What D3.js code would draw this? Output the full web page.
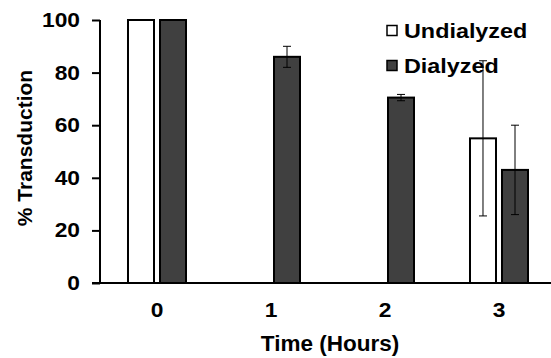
<!DOCTYPE html>
<html>
<head>
<meta charset="utf-8">
<script src="https://cdn.jsdelivr.net/npm/d3@7"></script>
<style>
  body { margin: 0; background: #fff; }
  text { font-family: 'Liberation Sans', Arial, sans-serif; font-weight: bold; fill: #000; }
</style>
</head>
<body>
<div id="chart"></div>
<script>
const hours = ['0', '1', '2', '3'];
const series = ['Undialyzed', 'Dialyzed'];
// null = no bar drawn
const undialyzed = [100, null, null, 55];
const undialyzedErr = [0, null, null, 29.5];
const dialyzed = [100, 86, 70.5, 43];
const dialyzedErr = [0, 4, 1.2, 17];
const yTicks = [0, 20, 40, 60, 80, 100];

const FILL = { Undialyzed: '#ffffff', Dialyzed: '#404040' };
const WIDE = 1.14; // the original text looks a bit stretched sideways

const width = 551, height = 358;

const svg = d3.select('#chart')
  .append('svg')
  .attr('width', width)
  .attr('height', height);

const y = d3.scaleLinear().domain([0, 100]).range([283, 20]);

const x0 = d3.scaleBand()
  .domain(hours)
  .range([100, 556])
  .paddingInner(0.4912)
  .paddingOuter(0.2456);

const x1 = d3.scaleBand()
  .domain(series)
  .range([0, x0.bandwidth()])
  .paddingInner(0.1875);

const rows = hours.map((h, i) => ({
  hour: h,
  values: [
    { key: 'Undialyzed', value: undialyzed[i], err: undialyzedErr[i] },
    { key: 'Dialyzed', value: dialyzed[i], err: dialyzedErr[i] },
  ].filter(d => d.value != null),
}));

// legend (error bar passes over it in the original)
const legendData = [
  { key: 'Undialyzed', y: 30.5 },
  { key: 'Dialyzed', y: 65.5 },
];
const legend = svg.append('g');
legend.selectAll('rect')
  .data(legendData)
  .join('rect')
  .attr('x', 387)
  .attr('y', d => d.y - 5)
  .attr('width', 10)
  .attr('height', 10)
  .attr('fill', d => FILL[d.key])
  .attr('stroke', '#000')
  .attr('stroke-width', 1.5);
legend.selectAll('text')
  .data(legendData)
  .join('text')
  .attr('transform', d => `translate(404,${d.y}) scale(${WIDE},1)`)
  .attr('dy', '0.35em')
  .attr('font-size', 20.5)
  .text(d => d.key);

// bars
const group = svg.append('g')
  .selectAll('g')
  .data(rows)
  .join('g')
  .attr('transform', d => `translate(${x0(d.hour)},0)`);

group.selectAll('rect')
  .data(d => d.values)
  .join('rect')
  .attr('x', d => x1(d.key))
  .attr('y', d => y(d.value))
  .attr('width', x1.bandwidth())
  .attr('height', d => y(0) - y(d.value))
  .attr('fill', d => FILL[d.key])
  .attr('stroke', '#000')
  .attr('stroke-width', 2);

// error bars
const errs = group.selectAll('g.err')
  .data(d => d.values.filter(v => v.err > 0))
  .join('g')
  .attr('class', 'err')
  .attr('stroke', '#000')
  .attr('stroke-width', 1);
errs.append('line')
  .attr('x1', d => x1(d.key) + x1.bandwidth() / 2)
  .attr('x2', d => x1(d.key) + x1.bandwidth() / 2)
  .attr('y1', d => y(d.value + d.err))
  .attr('y2', d => y(d.value - d.err));
errs.selectAll('line.cap')
  .data(d => [d.value + d.err, d.value - d.err].map(v => ({ v, d })))
  .join('line')
  .attr('class', 'cap')
  .attr('x1', c => x1(c.d.key) + x1.bandwidth() / 2 - 4)
  .attr('x2', c => x1(c.d.key) + x1.bandwidth() / 2 + 4)
  .attr('y1', c => y(c.v))
  .attr('y2', c => y(c.v));

// y axis
const yAxis = svg.append('g')
  .attr('transform', 'translate(100,0)')
  .call(d3.axisLeft(y).tickValues(yTicks).tickSize(8));
yAxis.select('.domain').attr('d', `M0,${y(100)}V${y(0)}`).attr('stroke-width', 2);
yAxis.selectAll('.tick line').attr('stroke-width', 2);
yAxis.selectAll('.tick text')
  .attr('x', null)
  .attr('transform', `translate(-20,0) scale(${WIDE},1)`)
  .attr('font-size', 20)
  .attr('font-family', null);

// x axis
const xAxis = svg.append('g')
  .attr('transform', `translate(0,${y(0)})`)
  .call(d3.axisBottom(x0).tickSize(0).tickPadding(20));
xAxis.select('.domain').attr('d', 'M92,0H551').attr('stroke-width', 2);
xAxis.selectAll('.tick text')
  .attr('transform', `scale(${WIDE},1)`)
  .attr('font-size', 20)
  .attr('font-family', null);

// titles
svg.append('text')
  .attr('transform', 'translate(32,148) rotate(-90)')
  .attr('text-anchor', 'middle')
  .attr('font-size', 21)
  .text('% Transduction');

svg.append('text')
  .attr('x', 330)
  .attr('y', 350.5)
  .attr('text-anchor', 'middle')
  .attr('font-size', 22.5)
  .text('Time (Hours)');
</script>
</body>
</html>
